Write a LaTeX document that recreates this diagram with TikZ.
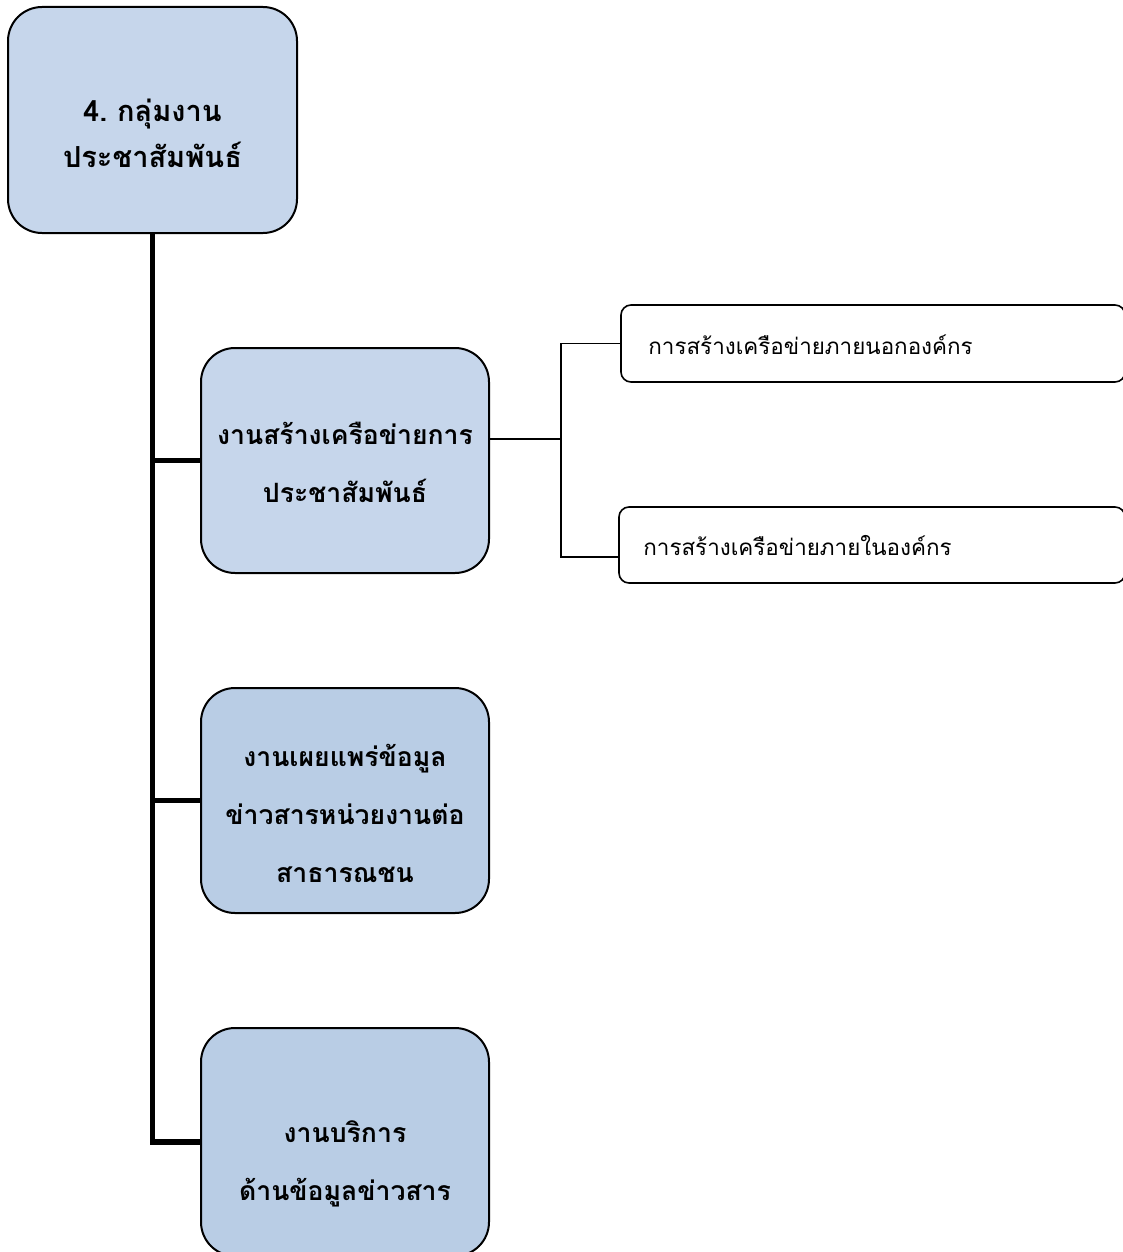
\documentclass[tikz,border=0pt]{standalone}
\usepackage{fontspec}
\newfontfamily\thai[Script=Thai]{Loma}
\definecolor{topfill}{HTML}{C6D6EB}
\definecolor{boxfill}{HTML}{B9CDE5}
\begin{document}
\begin{tikzpicture}[x=0.5pt,y=-0.5pt,
  mainbox/.style={draw=black,line width=1pt,rounded corners=17pt,fill=boxfill,inner sep=0pt},
  maintext/.style={align=center,inner sep=0pt,font=\thai\bfseries\fontsize{13.3}{29}\selectfont},
  subbox/.style={draw=black,line width=0.8pt,rounded corners=5pt,fill=white,inner sep=0pt},
  subtext/.style={anchor=west,inner sep=0pt,font=\thai\fontsize{11.2}{14}\selectfont},
  trunk/.style={line width=2.6pt},
  twig/.style={line width=0.8pt}]
\useasboundingbox (0,0) rectangle (1123,1252);
\begin{scope}
\clip (0,0) rectangle (1123,1252);
\node[mainbox,fill=topfill,minimum width=144.5pt,minimum height=113pt] (top) at (152.5,120) {};
\node[maintext,font=\thai\bfseries\fontsize{14.5}{23}\selectfont] (toptext) at (152.5,133) {4.\ กลุ่มงาน\\ประชาสัมพันธ์};
\node[mainbox,fill=topfill,minimum width=144pt,minimum height=112.5pt] (b2) at (345,460.5) {};
\node[maintext] (b2text) at (345,462) {งานสร้างเครือข่ายการ\\ประชาสัมพันธ์};
\node[mainbox,minimum width=144pt,minimum height=112.5pt] (b3) at (345,800.5) {};
\node[maintext] (b3text) at (345,813) {งานเผยแพร่ข้อมูล\\ข่าวสารหน่วยงานต่อ\\สาธารณชน};
\node[mainbox,minimum width=144pt,minimum height=114pt] (b4) at (345,1142) {};
\node[maintext] (b4text) at (345,1164) {งานบริการ\\ด้านข้อมูลข่าวสาร};
\node[subbox,minimum width=252pt,minimum height=38.5pt] (r1) at (873,343.5) {};
\node[subbox,minimum width=253pt,minimum height=38pt] (r2) at (872,545) {};
\node[subtext] (t1) at (648,345) {การสร้างเครือข่ายภายนอกองค์กร};
\node[subtext] (t2) at (643,545) {การสร้างเครือข่ายภายในองค์กร};
\end{scope}
\draw[trunk] (top.south) |- (b4.west);
\draw[trunk] (top.south |- b2.west) -- (b2.west);
\draw[trunk] (top.south |- b3.west) -- (b3.west);
\coordinate (j) at (561,439);
\coordinate (r2in) at (619,557);
\draw[twig] (b2.east |- j) -- (j);
\draw[twig] (j) |- (r1.west);
\draw[twig] (j) |- (r2in);
\end{tikzpicture}
\end{document}
